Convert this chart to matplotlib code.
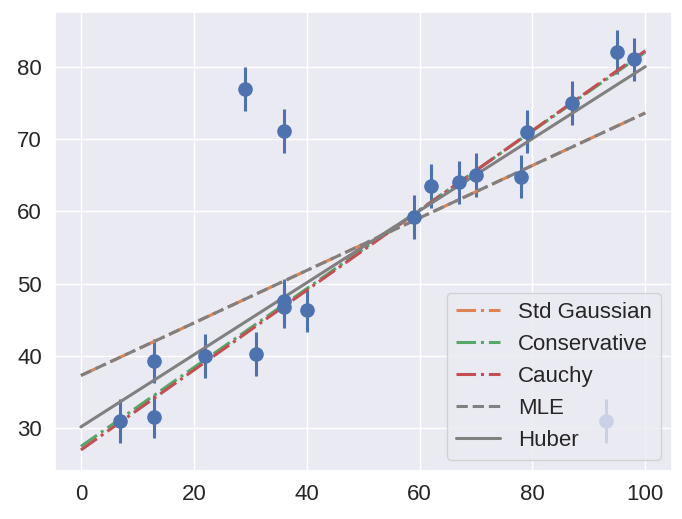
import numpy as np
import matplotlib
matplotlib.use("Agg")
import matplotlib.pyplot as plt
import seaborn as sns

sns.set_theme(style="darkgrid")
plt.rcParams['font.family'] = ['Liberation Sans', 'DejaVu Sans']

x = [7, 13, 13, 22, 29, 31, 36, 36, 36, 40, 59, 62, 67, 70, 78, 79, 87, 93, 95, 98]
y = [31.0, 39.3, 31.6, 40.0, 76.9, 40.3, 71.1, 47.6, 46.8, 46.3, 59.2, 63.5, 64.0, 65.0, 64.8, 71.0, 75.0, 31.0, 82.0, 81.0]
dy = [3.0] * len(x)

# fitted lines: (intercept, slope)
fits = {
    "Std Gaussian": (37.3, 0.363),
    "Conservative": (27.5, 0.545),
    "Cauchy": (27.0, 0.552),
    "MLE": (37.3, 0.363),
    "Huber": (30.2, 0.498),
}
styles = {
    "Std Gaussian": dict(color="#dd8452", ls="-."),
    "Conservative": dict(color="#55a868", ls="-."),
    "Cauchy": dict(color="#c44e52", ls="-."),
    "MLE": dict(color="gray", ls="--"),
    "Huber": dict(color="gray", ls="-"),
}

fig, ax = plt.subplots(figsize=(6.82, 5.19), dpi=100)
ax.errorbar(x, y, yerr=dy, fmt="o", color="#4c72b0", ms=9.5, elinewidth=2.2, capsize=0)

xfit = np.linspace(0, 100, 200)
for name, (b, m) in fits.items():
    ax.plot(xfit, b + m * xfit, lw=2.2, label=name, **styles[name])

ax.set_xlim(-4.6, 104.7)
ax.set_ylim(24.1, 87.6)
ax.tick_params(labelsize=16)
ax.legend(loc="lower right", fontsize=16, framealpha=0.8)
fig.subplots_adjust(left=0.0806, right=0.985, top=0.9775, bottom=0.0925)
fig.savefig("out.png", dpi=100)
